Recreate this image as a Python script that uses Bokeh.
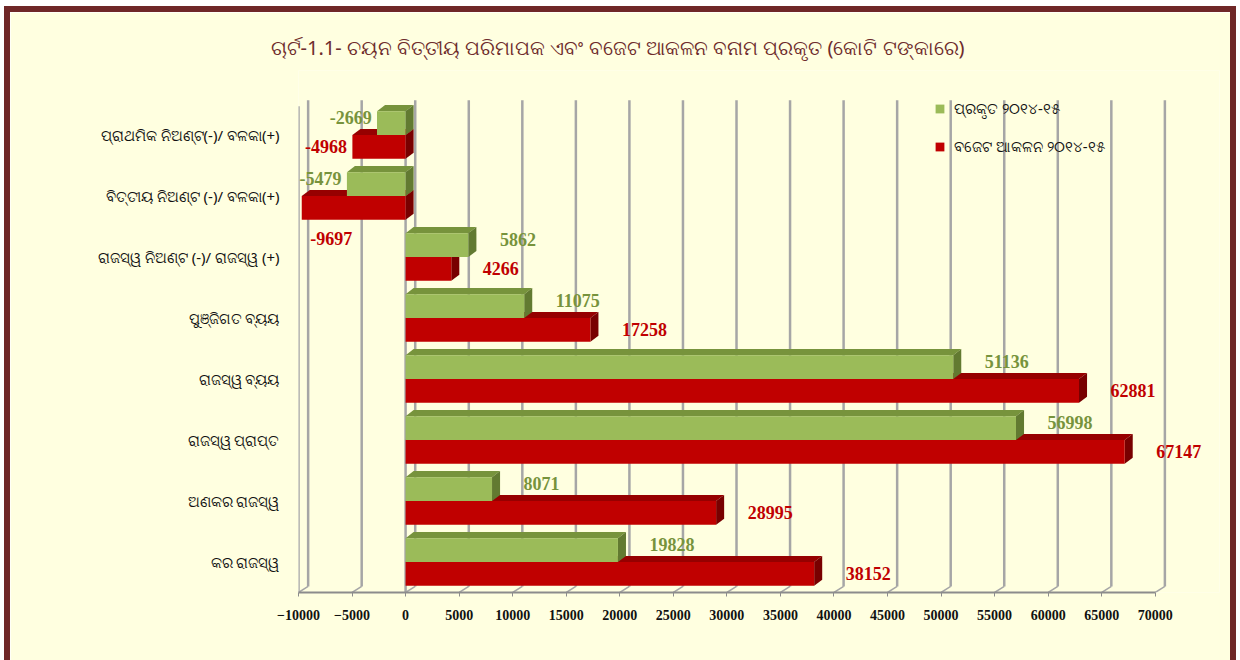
from bokeh.plotting import figure
from bokeh.models import Range1d, FixedTicker, Legend, LegendItem, ColumnDataSource, LabelSet
from bokeh.embed import file_html
from bokeh.resources import INLINE
from bokeh.core.properties import value

# ---------------- data ----------------
categories = [
    "ପ୍ରାଥମିକ ନିଅଣ୍ଟ(-)/ ବଳକା(+)",
    "ବିତ୍ତୀୟ ନିଅଣ୍ଟ (-)/ ବଳକା(+)",
    "ରାଜସ୍ୱ ନିଅଣ୍ଟ (-)/ ରାଜସ୍ୱ (+)",
    "ପୁଞ୍ଜିଗତ ବ୍ୟୟ",
    "ରାଜସ୍ୱ ବ୍ୟୟ",
    "ରାଜସ୍ୱ ପ୍ରାପ୍ତ",
    "ଅଣକର ରାଜସ୍ୱ",
    "କର ରାଜସ୍ୱ",
]
actual = [-2669, -5479, 5862, 11075, 51136, 56998, 8071, 19828]
budget = [-4968, -9697, 4266, 17258, 62881, 67147, 28995, 38152]
series_names = ["ପ୍ରକୃତ ୨୦୧୪-୧୫", "ବଜେଟ ଆକଳନ ୨୦୧୪-୧୫"]
x_ticks = list(range(-10000, 70001, 5000))
title_text = "ଚାର୍ଟ-1.1- ଚୟନ ବିତ୍ତୀୟ ପରିମାପକ ଏବଂ ବଜେଟ ଆକଳନ ବନାମ ପ୍ରକୃତ (କୋଟି ଟଙ୍କାରେ)"

# ---------------- styling ----------------
BG = "#FFFFE0"
FRAME = "#6F2727"
GRID = "#A6A6A6"
GREEN = ("#9BBB59", "#77933C", "#627A31")
RED = ("#C00000", "#960000", "#780000")
X0, X1 = -10000, 70000
n = len(categories)
bar_h = 0.39
depth_x = 750
depth_y = 0.1
grid_dx = 900
ODIA = "Noto Sans"

# extra room inside the frame: right of 70000 for labels, a little above the bars
x_pad = 6000
y_pad = 34 / 61

p = figure(width=1232, height=654, output_backend="svg", toolbar_location=None,
           x_range=Range1d(X0, X1 + x_pad), y_range=Range1d(0, n + y_pad),
           min_border_left=288, min_border_right=23, min_border_top=58, min_border_bottom=74,
           background_fill_color=BG, border_fill_color=BG, outline_line_color=None)
border = "6px solid " + FRAME
p.styles = {"border-left": border, "border-top": border, "border-right": border,
            "margin-left": "4px", "margin-top": "6px"}

p.title.text = title_text
p.title.align = "left"
p.title.offset = -28
p.title.standoff = 19
p.title.text_font = ODIA
p.title.text_font_size = "20px"
p.title.text_font_style = "normal"
p.title.text_color = "#6E2C2C"

# 3D-style back wall grid lines, floor ticks and front lines
p.xgrid.grid_line_color = None
p.ygrid.grid_line_color = None
p.segment(x0=[t + grid_dx for t in x_ticks], y0=[depth_y] * len(x_ticks),
          x1=[t + grid_dx for t in x_ticks], y1=[n + 0.07] * len(x_ticks),
          line_color=GRID, line_width=2.5)
p.segment(x0=x_ticks, y0=[0] * len(x_ticks),
          x1=[t + grid_dx for t in x_ticks], y1=[depth_y] * len(x_ticks),
          line_color=GRID, line_width=1.5)
p.segment(x0=[X0, 0], y0=[0, 0], x1=[X0, 0], y1=[n - 0.03, n - 0.03],
          line_color=GRID, line_width=2.5)

# axes
p.xaxis.ticker = FixedTicker(ticks=x_ticks)
p.xaxis.bounds = (X0, X1)
p.xaxis.axis_line_color = "#8C8C8C"
p.xaxis.axis_line_width = 2
p.xaxis.major_tick_line_color = "#8C8C8C"
p.xaxis.major_tick_in = 0
p.xaxis.major_tick_out = 4
p.xaxis.minor_tick_line_color = None
p.xaxis.major_label_text_font = "Liberation Serif"
p.xaxis.major_label_text_font_style = "bold"
p.xaxis.major_label_text_font_size = "14px"
p.xaxis.major_label_text_color = "#111111"
p.xaxis.major_label_standoff = 13

centers = [n - i - 0.5 for i in range(n)]
p.yaxis.ticker = FixedTicker(ticks=centers)
p.yaxis.major_label_overrides = {c: categories[i] for i, c in enumerate(centers)}
p.yaxis.axis_line_color = None
p.yaxis.major_tick_line_color = None
p.yaxis.minor_tick_line_color = None
p.yaxis.major_label_text_font = ODIA
p.yaxis.major_label_text_font_size = "15px"
p.yaxis.major_label_text_color = "#111111"
p.yaxis.major_label_standoff = 13


def draw_series(vals, sign, cols):
    front, top, side = cols
    lefts, rights, bots, tops = [], [], [], []
    txs, tys, sxs, sys_ = [], [], [], []
    for i, v in enumerate(vals):
        c = centers[i]
        lo, hi = min(v, 0), max(v, 0)
        b = c if sign > 0 else c - bar_h
        t = b + bar_h
        lefts.append(lo); rights.append(hi); bots.append(b); tops.append(t)
        txs.append([lo, hi, hi + depth_x, lo + depth_x])
        tys.append([t, t, t + depth_y, t + depth_y])
        sxs.append([hi, hi + depth_x, hi + depth_x, hi])
        sys_.append([b, b + depth_y, t + depth_y, t])
    p.patches(txs, tys, fill_color=top, line_color=None)
    p.patches(sxs, sys_, fill_color=side, line_color=None)
    r = p.quad(left=lefts, right=rights, bottom=bots, top=tops,
               fill_color=front, line_color=None)
    return r


r_budget = draw_series(budget, -1, RED)
r_actual = draw_series(actual, +1, GREEN)


def draw_labels(vals, sign, color):
    L = dict(x=[], y=[], t=[])
    R = dict(x=[], y=[], t=[])
    for i, v in enumerate(vals):
        c = centers[i]
        yc = c + sign * bar_h / 2 + (0.1 if sign > 0 else 0.0)
        if v >= 0:
            L["x"].append(v + depth_x + 2200); L["y"].append(yc); L["t"].append(str(v))
        elif v - 4500 > X0:
            R["x"].append(v - 500); R["y"].append(yc); R["t"].append(str(v))
        else:
            L["x"].append(v + 800); L["y"].append(c - bar_h - 0.3); L["t"].append(str(v))
    for d, al in ((L, "left"), (R, "right")):
        p.add_layout(LabelSet(x="x", y="y", text="t", source=ColumnDataSource(d),
                              text_align=al, text_baseline="middle",
                              text_font=value("Liberation Serif"), text_font_style="bold",
                              text_font_size="18px", text_color=color))


draw_labels(actual, +1, "#77933C")
draw_labels(budget, -1, "#C00000")

legend = Legend(items=[LegendItem(label=series_names[0], renderers=[r_actual]),
                       LegendItem(label=series_names[1], renderers=[r_budget])],
                location=(636, 436), orientation="vertical",
                background_fill_alpha=0, border_line_color=None,
                glyph_width=11, glyph_height=11, label_height=20, spacing=18,
                padding=5, label_standoff=9,
                label_text_font=ODIA, label_text_font_size="15px",
                label_text_color="#111111")
p.add_layout(legend)

open("out.html", "w").write(file_html(p, INLINE))
